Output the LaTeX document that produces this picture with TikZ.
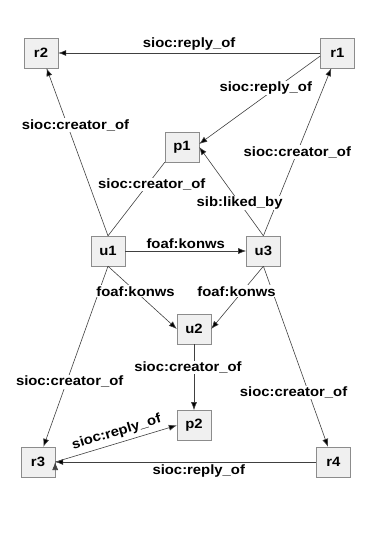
\documentclass[tikz,border=0pt]{standalone}
\usepackage{fontspec}
\setmainfont[FakeStretch=1.1]{Liberation Sans}
\usepackage{tikz}
\usetikzlibrary{positioning,arrows.meta}

\begin{document}
\begin{tikzpicture}[x=1pt,y=-1pt,>={Latex[length=8pt,width=6pt]},
    box/.style={rectangle,draw=black!45,fill=black!6,minimum width=34pt,minimum height=30pt,font=\fontsize{13.5}{16}\selectfont\bfseries},
    lbl/.style={fill=white,inner sep=1pt,font=\fontsize{13.5}{16}\selectfont\bfseries},
    link/.style={draw=black!75,line width=0.6pt}]
    \useasboundingbox (0,0) rectangle (370,546);
    \node[box] (r2) at (41,53) {r2};
    \node[box] (r1) [right=262pt of r2] {r1};
    \node[box] (p1) at (182,147) {p1};
    \node[box] (u1) at (108,251) {u1};
    \node[box] (u3) [right=121pt of u1] {u3};
    \node[box] (u2) at (194,329) {u2};
    \node[box] (p2) [below=66pt of u2] {p2};
    \node[box] (r3) at (38,462) {r3};
    \node[box] (r4) [right=261pt of r3] {r4};
    \path[link,->]
    (r1) edge node[lbl, above=1pt] {sioc:reply\_of} (r2)
    (u3.north) edge node[lbl, pos=0.5] {sioc:creator\_of} (r1)
    (r1.190) edge node[lbl, pos=0.45, above] {sioc:reply\_of} (p1.10)
    (u1.north) edge node[lbl, pos=0.66, xshift=8] {sioc:creator\_of} (r2)
    (u1.north) edge[-] node[lbl, pos=0.7, xshift=4] {sioc:creator\_of} (p1.south west)
    (u3.north) edge node[lbl, pos=0.37] {sib:liked\_by} (p1.east)
    (u1) edge node[lbl, above=1pt] {foaf:konws} (u3)
    (u1.south) edge node[lbl, pos=0.64, xshift=3] {sioc:creator\_of} (r3)
    (u3.south) edge node[lbl, pos=0.7, xshift=-15] {sioc:creator\_of} (r4)
    (u1.south) edge node[lbl, pos=0.4] {foaf:konws} (u2.west)
    (u3.south) edge node[lbl, pos=0.4, xshift=-6] {foaf:konws} (u2.east)
    (u2) edge node[lbl, pos=0.35, xshift=-6] {sioc:creator\_of} (p2)
    (r4) edge node[lbl, below=1pt, pos=0.45] {sioc:reply\_of} (r3)
    (r3.east) edge node[sloped, above=3pt, pos=0.53, inner sep=1pt, font=\fontsize{13.5}{16}\selectfont\bfseries] {sioc:reply\_of} (p2.west);
\end{tikzpicture}
\end{document}
